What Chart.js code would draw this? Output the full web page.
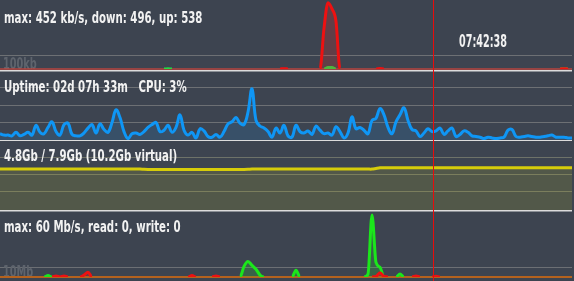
<!DOCTYPE html>
<html><head><meta charset="utf-8">
<script src="https://cdn.jsdelivr.net/npm/chart.js@4.4.1/dist/chart.umd.min.js"></script>
<style>
html,body{margin:0;padding:0;background:#3d4450;width:574px;height:281px;overflow:hidden;}
#wrap{position:relative;width:574px;height:281px;}
canvas{position:absolute;left:0;}
.t{position:absolute;left:4px;color:#f2f2f2;font-family:"DejaVu Sans Condensed","DejaVu Sans",sans-serif;font-weight:bold;font-size:15px;line-height:15px;white-space:pre;z-index:5;transform:scaleX(0.755);transform-origin:0 0;}
#time{left:459px;top:33px;font-size:17px;line-height:17px;transform:scaleX(0.63);}
</style></head><body><div id="wrap">
<canvas id="cNet" width="572" height="72" style="top:0;width:572px;height:72px"></canvas>
<canvas id="cCpu" width="572" height="71" style="top:70px;width:572px;height:71px"></canvas>
<canvas id="cMem" width="572" height="72" style="top:140px;width:572px;height:72px"></canvas>
<canvas id="cDisk" width="572" height="70" style="top:211px;width:572px;height:70px"></canvas>
<div class="t" id="tNet" style="top:11px"></div>
<div class="t" id="time"></div>
<div class="t" id="tCpu" style="top:80px"></div>
<div class="t" id="tMem" style="top:149px"></div>
<div class="t" id="tDisk" style="top:220px"></div>
</div>
<script>
// ---- data ----
const N = 144;
const sampleIndex = Array.from({length: N}, (_, i) => i);
const cursorSample = 108.3;

const netTitle = "max: 452 kb/s, down: 496, up: 538";
const clockText = "07:42:38";
const cpuTitle = "Uptime: 02d 07h 33m   CPU: 3%";
const memTitle = "4.8Gb / 7.9Gb (10.2Gb virtual)";
const diskTitle = "max: 60 Mb/s, read: 0, write: 0";
const netScaleLabel = "100kb";
const diskScaleLabel = "10Mb";

const netGridTicks = [100];
const cpuGridTicks = [25, 50, 75];
const memGridTicks = [25, 50, 75];
const diskGridTicks = [10];

const netDown = [
  0,0,0,0,0,0,0,0,0,0,0,0,
  0,0,0,0,0,0,0,0,0,0,0,0,
  0,0,0,0,0,0,0,0,0,0,0,0,
  0,0,0,0,0,0,0,0,0,0,0,0,
  0,0,0,0,0,0,0,0,0,0,0,0,
  0,0,0,0,0,0,0,0,0,0,0,2,
  0,0,0,0,0,0,0,0,0,290,474,430,
  340,0,0,0,0,0,0,0,0,0,0,3,
  0,0,0,0,0,0,0,0,0,0,0,0,
  0,0,0,0,0,0,0,0,0,0,0,0,
  0,0,0,0,0,0,0,0,0,0,0,0,
  0,0,0,0,0,0,0,0,0,2,0,0
];
const netUp = [
  0,0,0,0,0,0,0,0,0,0,0,0,
  0,0,0,0,0,0,0,0,0,0,0,0,
  0,0,0,0,0,0,0,0,0,0,0,0,
  0,0,0,0,0,0,1,0,0,0,0,0,
  0,0,0,0,0,0,0,0,0,0,0,0,
  0,0,0,0,0,0,0,0,0,0,0,0,
  0,0,0,0,0,0,0,0,0,0,10,10,
  0,0,0,0,0,0,0,0,0,0,0,0,
  0,0,0,0,0,0,0,0,0,0,0,0,
  0,0,0,0,0,0,0,0,0,0,0,0,
  0,0,0,0,0,0,0,0,0,0,0,0,
  0,0,0,0,0,0,0,0,0,2,0,0
];
const cpuLoad = [
  9,7,7,6,11,6,8,11,7,21,
  11,9,18,26,12,7,22,24,8,6,
  6,10,17,22,10,23,15,11,25,43,
  32,12,2,9,10,8,12,18,22,25,
  12,14,21,11,18,36,14,7,11,3,
  16,13,5,4,8,4,12,23,26,32,
  24,22,40,73,28,20,17,12,4,17,
  10,21,6,4,21,12,10,13,8,20,
  14,9,10,7,19,12,3,10,33,16,
  18,14,9,28,31,45,36,18,9,26,
  36,46,28,15,13,5,10,16,12,13,
  17,8,13,17,5,8,13,11,6,5,
  4,2,4,3,2,3,4,14,15,5,
  4,5,6,5,4,4,5,6,7,4,
  4,4,3,3
];
const memUsed = [
  57.4,57.4,57.4,57.4,57.4,57.4,57.4,57.4,57.4,57.4,57.4,57.4,
  57.4,57.4,57.4,57.4,57.4,57.4,57.4,57.4,57.4,57.4,57.4,57.4,
  57.4,57.4,57.4,57.4,57.4,57.4,57.4,57.4,57.4,57.4,57.4,57.4,
  57.0,56.8,56.8,56.8,56.8,56.8,56.8,56.8,56.8,56.8,56.8,56.8,
  56.8,56.8,56.8,56.8,56.8,56.8,56.8,56.8,56.8,56.8,56.8,56.8,
  56.8,56.8,57.0,57.4,57.4,57.4,57.4,57.4,57.4,57.4,57.4,57.4,
  57.4,57.4,57.4,57.4,57.4,57.4,57.4,57.4,57.4,57.4,57.4,57.4,
  57.4,57.4,57.4,57.4,57.4,57.4,57.4,57.4,57.4,57.4,58.4,59.3,
  59.3,59.3,59.3,59.3,59.3,59.3,59.3,59.3,59.3,59.3,59.3,59.3,
  59.3,59.3,59.3,59.3,59.3,59.3,59.3,59.3,59.3,59.3,59.3,59.3,
  59.3,59.3,59.3,59.3,59.3,59.3,59.3,59.3,59.3,59.3,59.3,59.3,
  59.3,59.3,59.3,59.3,59.3,59.3,59.3,59.3,59.3,59.3,59.3,59.3
];
const diskRead = [
  0,0,0,0,0,0,0,0,0,0,0,0,
  0,0,1,0,1,0,0,0,0,2,5,0,
  0,0,0,0,0,0,0,0,0,0,0,0,
  0,0,0,0,0,0,0,0,0,0,0,0,
  1.5,0,0,0,0,0,1,0,0,0,0,0,
  0,0,0,0,0,0,0,0,0,0,0,0,
  0,0,0,0,0,0,0,0,0,0,0,0,
  0,0,0,0,0,0,0,0,0,0,0.5,4.5,
  0.5,0,0,0,0,0,0,0,1,0,0,0,
  0,0.7,0,0,0,0,0,0,0,0,0,0,
  0,0,0,0,0,0,0,0,0,0,0,0,
  0,0,0,0,0,0,0,0,0,0,0,0
];
const diskWrite = [
  0,0,0,0,0,0,0,0,0,0,0,0,
  1.5,0,0,0,0,0,0,0,0,0,0,0,
  0,0,0,0,0,0,0,0,0,0,0,0,
  0,0,0,0,0,0,0,0,0,0,0,0,
  0,0,0,0,0,0,0,0,0,0,0,0,
  0,11,16,12,8,2,0,0,0,0,0,0,
  0,0,7,0,0,0,0,0,0,0,0,0,
  0,0,0,0,0,0,0,0,3,64,15,10,
  0,0,0,0,3,0,0,0,0,0,0,0,
  0,0,0,0,0,0,0,0,0,0,0,0,
  0,0,0,0,0,0,0,0,0,0,0,0,
  0,0,0,0,0,0,0,0,0,0,0,0
];

// ---- text ----
document.getElementById('tNet').textContent = netTitle;
document.getElementById('time').textContent = clockText;
document.getElementById('tCpu').textContent = cpuTitle;
document.getElementById('tMem').textContent = memTitle;
document.getElementById('tDisk').textContent = diskTitle;

// ---- drawing helpers ----
const LABEL_FONT = 'bold 15px "DejaVu Sans Condensed","DejaVu Sans",sans-serif';
const deco = {
  id: 'deco',
  beforeDatasetsDraw(chart, _a, o) {
    const {ctx, chartArea: a, scales: {y}} = chart;
    const y0 = y.getPixelForValue(0);
    ctx.save();
    if (o.label) {
      ctx.save();
      ctx.font = LABEL_FONT;
      ctx.fillStyle = o.labelColor;
      ctx.textBaseline = 'alphabetic';
      ctx.textAlign = 'left';
      ctx.translate(3, y0);
      ctx.scale(0.72, 1);
      ctx.fillText(o.label, 0, 0);
      ctx.restore();
    }
    if (o.baseColor) {
      ctx.fillStyle = o.baseColor;
      ctx.fillRect(a.left, y0 - o.baseWidth / 2, a.right - a.left, o.baseWidth);
    }
    ctx.restore();
  },
  afterDraw(chart, _a, o) {
    const {ctx, chartArea: a, scales: {x}, width, height} = chart;
    ctx.save();
    if (o.sepColor) {
      ctx.fillStyle = o.sepColor;
      ctx.fillRect(0, a.bottom + o.sepOffset, width, o.sepWidth);
    }
    const cx = Math.round(x.getPixelForValue(cursorSample));
    ctx.fillStyle = '#e80c0c';
    ctx.fillRect(cx, 0, 1, height);
    ctx.restore();
  }
};

const hideZero = ctx => (ctx.p0.parsed.y === 0 && ctx.p1.parsed.y === 0) ? 'rgba(0,0,0,0)' : undefined;

function makeChart(id, datasets, yMin, yMax, gridTicks, gridColor, padBottom, decoOpts) {
  return new Chart(document.getElementById(id), {
    type: 'line',
    data: {labels: sampleIndex, datasets},
    options: {
      responsive: false, animation: false, devicePixelRatio: 1, events: [],
      layout: {padding: {left: 0, right: 0, top: 0, bottom: padBottom}},
      plugins: {legend: {display: false}, tooltip: {enabled: false}, title: {display: false}, deco: decoOpts},
      elements: {point: {radius: 0}},
      scales: {
        x: {display: false, offset: false},
        y: {
          min: yMin, max: yMax, display: true, position: 'left',
          afterBuildTicks: ax => { ax.ticks = gridTicks.map(v => ({value: v})); },
          afterFit: ax => { ax.width = 0; },
          ticks: {display: false},
          border: {display: false},
          grid: {color: gridColor, lineWidth: 1, drawTicks: false}
        }
      }
    },
    plugins: [deco]
  });
}

// Network
makeChart('cNet', [
  {data: netDown, borderColor: '#ee1111', backgroundColor: 'rgba(230,40,40,0.22)', fill: 'origin',
   borderWidth: 3, cubicInterpolationMode: 'monotone', segment: {borderColor: hideZero}},
  {data: netUp, borderColor: '#22dd44', backgroundColor: 'rgba(40,220,80,0.25)', fill: 'origin',
   borderWidth: 3, cubicInterpolationMode: 'monotone', segment: {borderColor: hideZero}}
], 0, 493, netGridTicks, 'rgba(150,150,145,0.55)', 3,
  {label: netScaleLabel, labelColor: '#5e646d', baseColor: '#c8453c', baseWidth: 1.3,
   sepColor: '#dcdcdc', sepOffset: 1, sepWidth: 1.5});

// CPU
makeChart('cCpu', [
  {data: cpuLoad, borderColor: '#0f96f5', backgroundColor: 'rgba(30,140,230,0.16)', fill: 'origin',
   borderWidth: 3, tension: 0.4}
], 0, 100, cpuGridTicks, 'rgba(150,150,145,0.55)', 1,
  {sepColor: '#dcdcdc', sepOffset: 0, sepWidth: 1.5});

// Memory
makeChart('cMem', [
  {data: memUsed, borderColor: '#d6cc0a', backgroundColor: 'rgba(190,190,40,0.16)', fill: 'start',
   borderWidth: 3, tension: 0.3}
], -2.5, 100, memGridTicks, 'rgba(160,160,130,0.5)', 2,
  {sepColor: '#dcdcdc', sepOffset: 0, sepWidth: 1.5});

// Disk
makeChart('cDisk', [
  {data: diskRead, borderColor: '#ee1111', backgroundColor: 'rgba(230,40,40,0.22)', fill: 'origin',
   borderWidth: 3, cubicInterpolationMode: 'monotone', segment: {borderColor: hideZero}},
  {data: diskWrite, borderColor: '#1be61b', backgroundColor: 'rgba(40,220,40,0.2)', fill: 'origin',
   borderWidth: 3, cubicInterpolationMode: 'monotone', segment: {borderColor: hideZero}}
], 0, 68, diskGridTicks, 'rgba(140,140,140,0.6)', 4,
  {label: diskScaleLabel, labelColor: '#5e646d', baseColor: '#b4621e', baseWidth: 2});
</script>
</body></html>
